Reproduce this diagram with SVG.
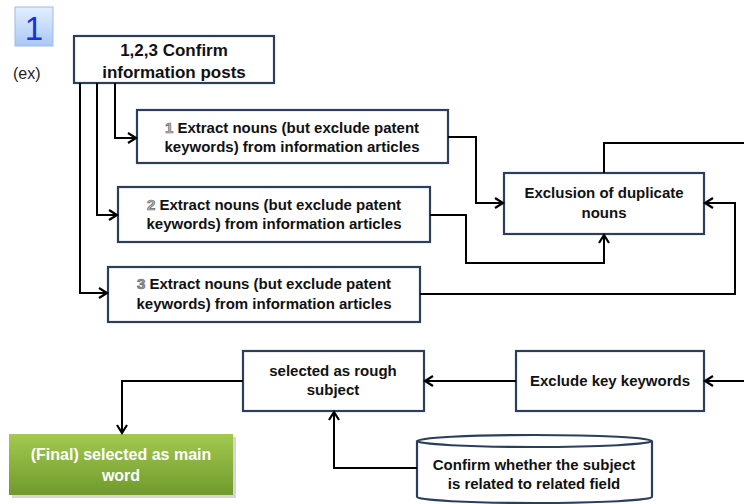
<svg xmlns="http://www.w3.org/2000/svg" width="744" height="504" viewBox="0 0 744 504">
<defs>
<linearGradient id="badge" x1="0" y1="0" x2="0" y2="1"><stop offset="0" stop-color="#e3efff"/><stop offset="1" stop-color="#a9c8f5"/></linearGradient>
<linearGradient id="green" x1="0" y1="0" x2="0" y2="1"><stop offset="0" stop-color="#a3c94f"/><stop offset="1" stop-color="#6f9a2c"/></linearGradient>
<marker id="arr" markerUnits="userSpaceOnUse" markerWidth="12" markerHeight="14" refX="9" refY="6" orient="auto" viewBox="0 0 12 12"><path d="M1,1 L9,6 L1,11" fill="none" stroke="#000" stroke-width="2.2"/></marker>
<style>
.box{fill:#fff;stroke:#2b3f5c;stroke-width:2.2}
.t{font-family:"Liberation Sans",Arial,sans-serif;font-weight:bold;font-size:15px;fill:#111;text-anchor:middle}
.num{fill:#bdbdbd;stroke:#666;stroke-width:0.7}
.c{fill:none;stroke:#000;stroke-width:2;marker-end:url(#arr)}
.cn{fill:none;stroke:#000;stroke-width:2}
</style>
</defs>
<g id="badge1">
<rect x="15" y="7" width="38" height="39" fill="url(#badge)" stroke="#9dbbe0" stroke-width="1"/>
<text x="34" y="40" style="font-family:'Liberation Sans',Arial,sans-serif;font-size:33px;fill:#1a2fe0;text-anchor:middle">1</text>
</g>
<text x="13" y="79" style="font-family:'Liberation Sans',Arial,sans-serif;font-size:16px;fill:#222">(ex)</text>
<g id="confirm">
<rect class="box" x="74" y="36" width="200" height="47"/>
<text class="t" x="174" y="56" style="font-size:17px">1,2,3 Confirm</text>
<text class="t" x="174" y="78" style="font-size:17px">information posts</text>
</g>
<g id="extract1">
<rect class="box" x="137" y="110" width="311" height="53"/>
<text class="t" x="292" y="133"><tspan class="num">1</tspan> Extract nouns (but exclude patent</text>
<text class="t" x="292" y="152">keywords) from information articles</text>
</g>
<g id="extract2">
<rect class="box" x="118" y="187" width="312" height="55"/>
<text class="t" x="274" y="210"><tspan class="num">2</tspan> Extract nouns (but exclude patent</text>
<text class="t" x="274" y="229">keywords) from information articles</text>
</g>
<g id="extract3">
<rect class="box" x="108" y="267" width="312" height="55"/>
<text class="t" x="264" y="289"><tspan class="num" style="fill:#999">3</tspan> Extract nouns (but exclude patent</text>
<text class="t" x="264" y="309">keywords) from information articles</text>
</g>
<g id="dedup">
<rect class="box" x="504" y="173" width="200" height="61"/>
<text class="t" x="604" y="198">Exclusion of duplicate</text>
<text class="t" x="604" y="218">nouns</text>
</g>
<g id="rough">
<rect class="box" x="243" y="351" width="181" height="60"/>
<text class="t" x="333" y="376">selected as rough</text>
<text class="t" x="333" y="395">subject</text>
</g>
<g id="exclude">
<rect class="box" x="516" y="351" width="188" height="60"/>
<text class="t" x="610" y="386">Exclude key keywords</text>
</g>
<g id="final">
<rect x="12" y="437" width="224" height="61" fill="#bbb" opacity="0.6"/>
<rect x="9" y="434" width="224" height="61" fill="url(#green)"/>
<text class="t" x="121" y="460" style="fill:#fff;font-size:16px">(Final) selected as main</text>
<text class="t" x="121" y="481" style="fill:#fff;font-size:16px">word</text>
</g>
<g id="field">
<path d="M417,441 L417,497 A117.5,6 0 0 0 652,497 L652,441" class="box"/>
<ellipse cx="534.5" cy="441" rx="117.5" ry="6" class="box"/>
<text class="t" x="534" y="470">Confirm whether the subject</text>
<text class="t" x="534" y="489">is related to related field</text>
</g>
<g id="connectors">
<path class="c" d="M115,83 V138 H136"/>
<path class="c" d="M97,83 V215 H117"/>
<path class="c" d="M80,83 V293 H107"/>
<path class="c" d="M448,137 H476 V203 H503"/>
<path class="c" d="M430,215 H466 V263 H604 V235"/>
<path class="c" d="M420,294 H735 V203 H705"/>
<path class="cn" d="M604,173 V143 H744"/>
<path class="c" d="M744,381 H705"/>
<path class="c" d="M516,381 H425"/>
<path class="c" d="M243,381 H122 V433"/>
<path class="c" d="M417,468 H334 V412"/>
</g>
</svg>
